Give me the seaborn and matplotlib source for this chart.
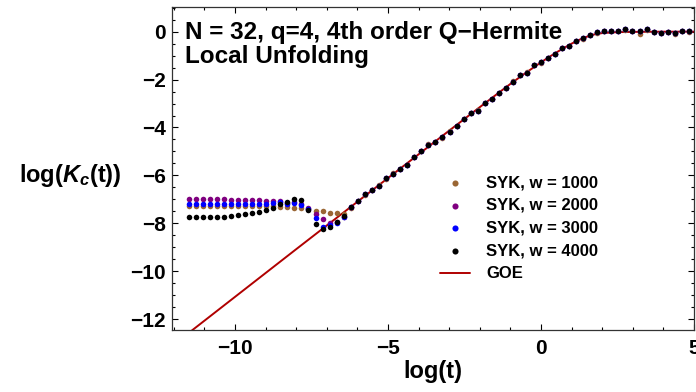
"""
Spectral form factor: SYK (Q-Hermite, local unfolding) vs GOE
"""

import matplotlib
matplotlib.use("Agg")
import matplotlib.pyplot as plt
from matplotlib.ticker import MultipleLocator
import seaborn as sns

# log(t) sampling of the SYK points
log_t = [-11.51, -11.28, -11.05, -10.82, -10.59, -10.36, -10.13, -9.90, -9.67, -9.44,
         -9.21, -8.98, -8.75, -8.52, -8.29, -8.06, -7.83, -7.60, -7.37, -7.14,
         -6.91, -6.68, -6.45, -6.22, -5.99, -5.76, -5.53, -5.30, -5.07, -4.84,
         -4.61, -4.38, -4.14, -3.91, -3.68, -3.45, -3.22, -2.99, -2.76, -2.53,
         -2.30, -2.07, -1.84, -1.61, -1.38, -1.15, -0.92, -0.69, -0.46, -0.23,
         0.00, 0.23, 0.46, 0.69, 0.92, 1.15, 1.38, 1.61, 1.84, 2.07,
         2.30, 2.53, 2.76, 2.99, 3.22, 3.45, 3.68, 3.91, 4.14, 4.38,
         4.61, 4.84]

# early-time part (plateau + dip), one list per width
early_w1000 = [-7.26] * 12 + [-7.26, -7.31, -7.31, -7.35, -7.35, -7.42, -7.49, -7.49,
                              -7.58, -7.58, -7.62]
early_w2000 = [-7.00] * 6 + [-7.03] * 5 + [-7.05, -7.05, -7.05, -7.15, -7.13, -7.20,
                                           -7.38, -7.62, -7.83, -8.00, -7.95, -7.72]
early_w3000 = [-7.21] * 11 + [-7.19, -7.17, -7.12, -7.19, -7.17, -7.24, -7.40, -7.79,
                              -8.14, -8.06, -7.97, -7.72]
early_w4000 = [-7.74] * 5 + [-7.72, -7.69, -7.65, -7.62, -7.58, -7.52, -7.44, -7.37,
                             -7.21, -7.10, -7.00, -7.03, -7.44, -8.03, -8.25, -8.17,
                             -7.93, -7.70]

# ramp + plateau (all widths collapse onto it)
ramp = [-7.33, -7.05, -6.79, -6.62, -6.43, -6.12, -5.94, -5.73, -5.57, -5.24,
        -4.97, -4.73, -4.62, -4.41, -4.17, -3.94, -3.66, -3.41, -3.30, -2.99,
        -2.81, -2.57, -2.36, -2.09, -1.82, -1.71, -1.39, -1.28, -1.10, -0.94,
        -0.69, -0.60, -0.38, -0.28, -0.14, -0.03, 0.04, 0.04, 0.04, 0.10,
        0.04, 0.04, 0.11, 0.00, -0.07, 0.00, -0.07, 0.04, 0.04]
ramp_w1000 = [-7.36, -7.07, -6.80, -6.60, -6.40, -6.13, -5.92, -5.72, -5.55, -5.22,
              -4.98, -4.70, -4.60, -4.42, -4.15, -3.92, -3.66, -3.40, -3.28, -2.97,
              -2.80, -2.55, -2.35, -2.07, -1.82, -1.69, -1.38, -1.30, -1.10, -0.92,
              -0.70, -0.58, -0.38, -0.30, -0.13, -0.04, 0.02, 0.03, 0.02, 0.08,
              0.01, -0.11, 0.08, -0.02, -0.05, -0.02, -0.08, 0.01, -0.02]

syk_w1000 = early_w1000 + ramp_w1000
syk_w2000 = early_w2000 + ramp
syk_w3000 = early_w3000 + ramp
syk_w4000 = early_w4000 + ramp

# GOE curve
goe_log_t = [-12.5, -8.0, -6.0, -4.0, -3.0, -2.0, -1.0, -0.5, 0.0, 0.25, 0.5, 0.75,
             1.0, 1.25, 1.5, 1.75, 2.0, 2.5, 3.0, 4.0, 5.0]
goe_log_k = [-13.56, -9.08, -7.10, -5.12, -4.13, -3.15, -2.18, -1.72, -1.28, -1.07,
             -0.87, -0.68, -0.50, -0.34, -0.21, -0.11, -0.06, -0.02, -0.01, 0.0, 0.0]

series = [
    ("SYK, w = 1000", syk_w1000, "#9a6634"),
    ("SYK, w = 2000", syk_w2000, "#800080"),
    ("SYK, w = 3000", syk_w3000, "#0000ff"),
    ("SYK, w = 4000", syk_w4000, "#000000"),
]

sns.set_style("ticks")
plt.rcParams["font.family"] = ["Liberation Sans", "DejaVu Sans"]
plt.rcParams["font.weight"] = "bold"
plt.rcParams["text.color"] = "black"
plt.rcParams["axes.labelcolor"] = "black"
plt.rcParams["mathtext.fontset"] = "custom"
plt.rcParams["mathtext.rm"] = "Liberation Sans:bold"
plt.rcParams["mathtext.it"] = "Liberation Sans:italic:bold"

fig = plt.figure(figsize=(6.96, 3.92), dpi=100)
ax = fig.add_axes([172 / 696, 62 / 392, 522 / 696, 323 / 392])

sns.lineplot(x=goe_log_t, y=goe_log_k, color="#b00000", linewidth=1.4,
             estimator=None, sort=False, ax=ax, label="GOE")

for name, vals, col in series:
    sns.scatterplot(x=log_t, y=vals, color=col, s=16, linewidth=0, ax=ax,
                    label=name, zorder=3)

ax.set_xlim(-12.06, 5.0)
ax.set_ylim(-12.455, 1.03)

ax.xaxis.set_major_locator(MultipleLocator(5))
ax.xaxis.set_minor_locator(MultipleLocator(1))
ax.yaxis.set_major_locator(MultipleLocator(2))
ax.yaxis.set_minor_locator(MultipleLocator(0.5))
ax.tick_params(which="both", direction="in", top=True, right=True,
               labelsize=15, width=0.8, colors="black")
ax.tick_params(which="major", length=4.5)
ax.tick_params(which="minor", length=2.5)
ax.tick_params(axis="x", pad=6.5)
ax.tick_params(axis="y", pad=4.5)
for sp in ax.spines.values():
    sp.set_linewidth(0.9)
    sp.set_color("#333333")

ax.set_xlabel("log(t)", fontsize=17, fontweight="bold", va="top")
ax.xaxis.set_label_coords(0.5, -0.093)
ax.set_ylabel(r"log($K_c$(t))", fontsize=17, fontweight="bold",
              rotation=0, ha="center", va="center")
ax.yaxis.set_label_coords(-0.195, 0.477)

ax.text(0.025, 0.956, "N = 32, q=4, 4th order Q\u2212Hermite\nLocal Unfolding",
        transform=ax.transAxes, ha="left", va="top", fontsize=17.5,
        fontweight="bold", linespacing=1.03)

handles, labels = ax.get_legend_handles_labels()
order = [1, 2, 3, 4, 0]
ax.legend([handles[i] for i in order], [labels[i] for i in order],
          loc="upper left", bbox_to_anchor=(0.50, 0.50), frameon=False,
          fontsize=12, handlelength=1.8, labelspacing=0.47, handletextpad=1.0,
          markerscale=1.1, borderaxespad=0)

plt.savefig("out.png", dpi=100)
plt.close()
